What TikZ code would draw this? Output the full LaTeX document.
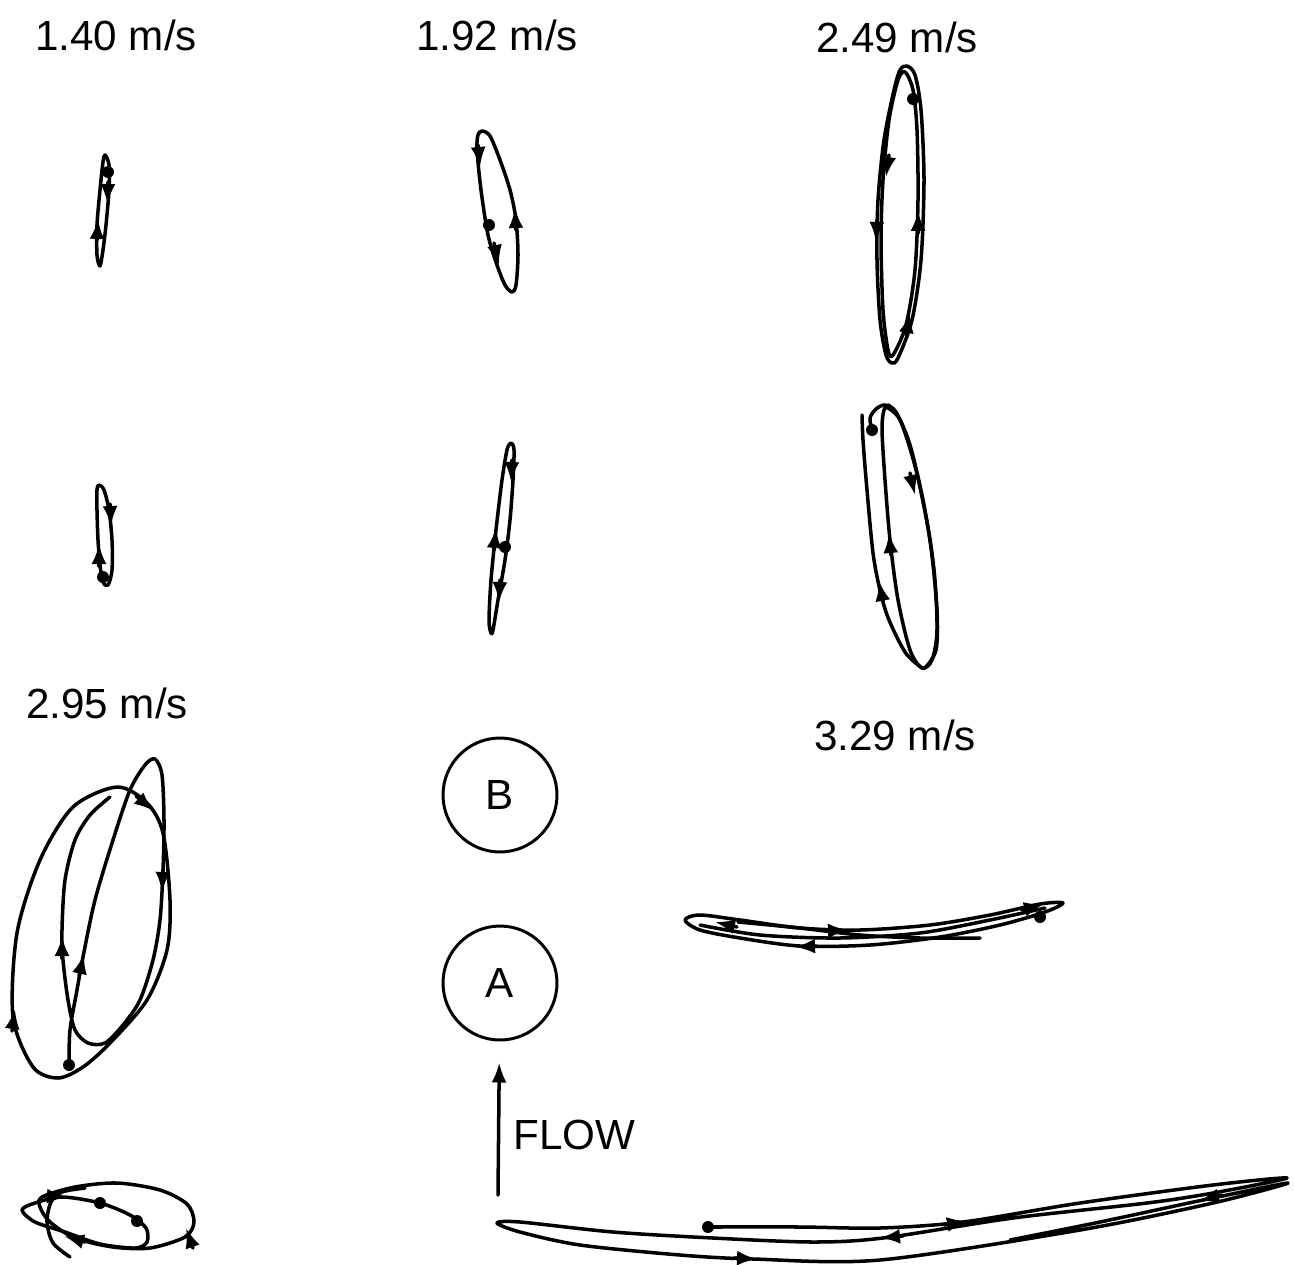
\documentclass[tikz,border=0pt]{standalone}
\usepackage{fontspec}
\setmainfont{Liberation Sans}
\usetikzlibrary{arrows.meta,positioning}
\tikzstyle{traj}=[line width=2pt,line join=round,line cap=round]
\tikzstyle{tip}=[traj,-{Latex[length=0.4cm,width=0.3cm]}]
\tikzstyle{rod}=[circle,draw,line width=1.7pt,minimum size=2.28cm,inner sep=0pt,font=\fontsize{24}{28}\selectfont]
\tikzstyle{speed}=[font=\fontsize{24}{28}\selectfont,inner sep=0pt]
\newcommand{\blob}[2]{\fill (#1,#2) circle (6);}

\begin{document}
\begin{tikzpicture}[x=0.02cm,y=-0.02cm]
\useasboundingbox (0,0) rectangle (1294,1264);
% speed labels
\node[speed] (v1) at (116,35) {1.40 m/s};
\node[speed] (v2) at (497,35) {1.92 m/s};
\node[speed] (v3) at (897,37) {2.49 m/s};
\node[speed] (v4) at (107,703) {2.95 m/s};
\node[speed] (v5) at (895,735) {3.29 m/s};
% the two cylinders and the flow
\node[rod] (B) at (500,795) {B};
\node[rod] (A) at (500,983) {A};
\coordinate (flowtail) at (498,1195);
\draw[tip,shorten >=0.42cm] (flowtail) -- (A);
\node[speed,right=0.3cm of flowtail,yshift=1.2cm] (flow) {FLOW};

% 1.40 m/s
\draw[traj] plot[smooth cycle] coordinates {(105,155) (109,165) (109,190) (106,225) (103,250) (100,266) (97,255) (97,225) (100,190) (103,162)};
\blob{108}{172}
\draw[tip] (108,182) -- (107.5,204);
\draw[tip] (97,240) -- (98,219);
\draw[traj] plot[smooth cycle] coordinates {(99,485) (104,490) (109,510) (112,540) (112,570) (108,585) (103,582) (100,565) (98,540) (97,510) (97,490)};
\blob{103}{577}
\draw[tip] (110,504) -- (111,526);
\draw[tip] (99,566) -- (99,544);

% 1.92 m/s
\draw[traj] plot[smooth cycle] coordinates {(482,131) (490,136) (500,160) (510,190) (516,220) (518,255) (516,285) (512,292) (505,285) (497,265) (488,235) (481,190) (477,150) (478,135)};
\blob{489}{225}
\draw[tip] (478,145) -- (480,167);
\draw[tip] (494,243) -- (499,265);
\draw[tip] (516,230) -- (515,208);
\draw[traj] plot[smooth cycle] coordinates {(511,443) (514,450) (513,480) (510,520) (505,560) (498,600) (493,630) (491,633) (489,620) (491,580) (496,530) (502,480) (507,450)};
\blob{505}{547}
\draw[tip] (512,460) -- (511,482);
\draw[tip] (500,580) -- (499,602);
\draw[tip] (494,550) -- (496,528);

% 2.49 m/s
\draw[traj] plot[smooth cycle] coordinates {(907,66) (915,75) (921,110) (924,180) (921,260) (912,320) (898,358) (892,363) (886,355) (880,320) (877,260) (878,200) (884,140) (894,90) (900,70)};
\draw[traj] plot[smooth cycle] coordinates {(905,72) (913,90) (917,130) (918,200) (915,270) (906,325) (893,355) (888,350) (883,310) (881,240) (883,180) (889,120) (898,80)};
\blob{913}{99}
\draw[tip] (889,155) -- (886,177);
\draw[tip] (877,220) -- (876,242);
\draw[tip] (918,233) -- (918,211);
\draw[tip] (906,335) -- (910,313);
\draw[traj] plot[smooth] coordinates {(872,430) (870,418) (876,409) (885,405) (896,412) (910,445) (924,505) (934,570) (937,630) (932,660) (922,668) (910,650) (898,600) (890,540) (885,480) (882,430) (884,410) (889,405)};
\draw[traj] plot[smooth] coordinates {(886,407) (900,420) (916,470) (930,540) (937,610) (936,650) (925,668)};
\draw[traj] plot[smooth] coordinates {(922,668) (905,652) (886,612) (874,560) (867,490) (863,440) (862,415)};
\blob{872}{430}
\draw[tip] (910,473) -- (915,495);
\draw[tip] (891,555) -- (889,533);
\draw[tip] (883,602) -- (879,581);

% 2.95 m/s
\draw[traj] plot[smooth cycle] coordinates {(117,787) (147,803) (163,833) (170,900) (167,950) (147,1000) (110,1043) (83,1067) (58,1078) (33,1067) (13,1017) (17,933) (40,860) (73,807)};
\draw[traj] plot[smooth] coordinates {(69,1065) (70,1030) (77,990) (83,957) (95,900) (113,840) (130,790) (145,765) (155,759) (162,775) (164,820) (163,870) (160,920) (153,960) (140,1000) (123,1025) (105,1043) (88,1043) (75,1030) (68,1000) (63,960) (62,930) (65,880) (75,840) (90,815) (110,797)};
\blob{69}{1065}
\draw[tip] (136,796) -- (154,811);
\draw[tip] (12,1031) -- (15,1009);
\draw[tip] (79,976) -- (84,954);
\draw[tip] (163,870) -- (162,892);
\draw[tip] (62,958) -- (62,936);
\draw[traj] plot[smooth cycle] coordinates {(42,1197) (75,1187) (117,1183) (160,1190) (187,1204) (194,1222) (185,1237) (150,1248) (113,1247) (75,1238) (50,1222) (40,1207)};
\draw[traj] plot[smooth cycle] coordinates {(22,1210) (35,1203) (62,1197) (100,1203) (130,1215) (146,1228) (147,1242) (135,1248) (100,1244) (65,1232) (35,1222)};
\draw[traj] plot[smooth] coordinates {(70,1257) (53,1243) (47,1222) (51,1202) (62,1192) (85,1188)};
\blob{100}{1203}
\blob{137}{1221}
\draw[tip] (46,1196) -- (67,1197);
\draw[tip] (193,1248) -- (186,1228);
\draw[tip] (85,1242) -- (64,1236);

% 3.29 m/s
\draw[traj] plot[smooth cycle] coordinates {(685,920) (700,915) (740,920) (800,928) (860,930) (930,925) (990,915) (1040,904) (1063,903) (1045,912) (1000,925) (940,937) (870,945) (800,946) (740,938) (700,930)};
\draw[traj] plot[smooth] coordinates {(738,922) (800,928) (860,935) (920,938) (980,938)};
\draw[traj] plot[smooth] coordinates {(700,925) (760,935) (840,938) (920,933) (990,920) (1045,908)};
\blob{1040}{917}
\draw[tip] (737,927) -- (715,922);
\draw[tip] (817,946) -- (795,947);
\draw[tip] (826,931) -- (848,930);
\draw[tip] (1022,910) -- (1044,904);
\draw[traj] plot[smooth] coordinates {(708,1227) (800,1227) (880,1228) (963,1222) (1080,1203) (1213,1185) (1287,1178) (1213,1193) (1147,1203) (1013,1218) (883,1238) (813,1242) (713,1238) (613,1232) (520,1222) (497,1223) (520,1232) (580,1245) (680,1255) (753,1259) (880,1260) (1080,1230) (1213,1203) (1288,1183) (1203,1200) (1100,1222) (1010,1240)};
\blob{708}{1227}
\draw[tip] (944,1225) -- (967,1221);
\draw[tip] (903,1236) -- (880,1238);
\draw[tip] (734,1258) -- (757,1259);
\draw[tip] (1222,1195) -- (1199,1201);
\end{tikzpicture}
\end{document}
